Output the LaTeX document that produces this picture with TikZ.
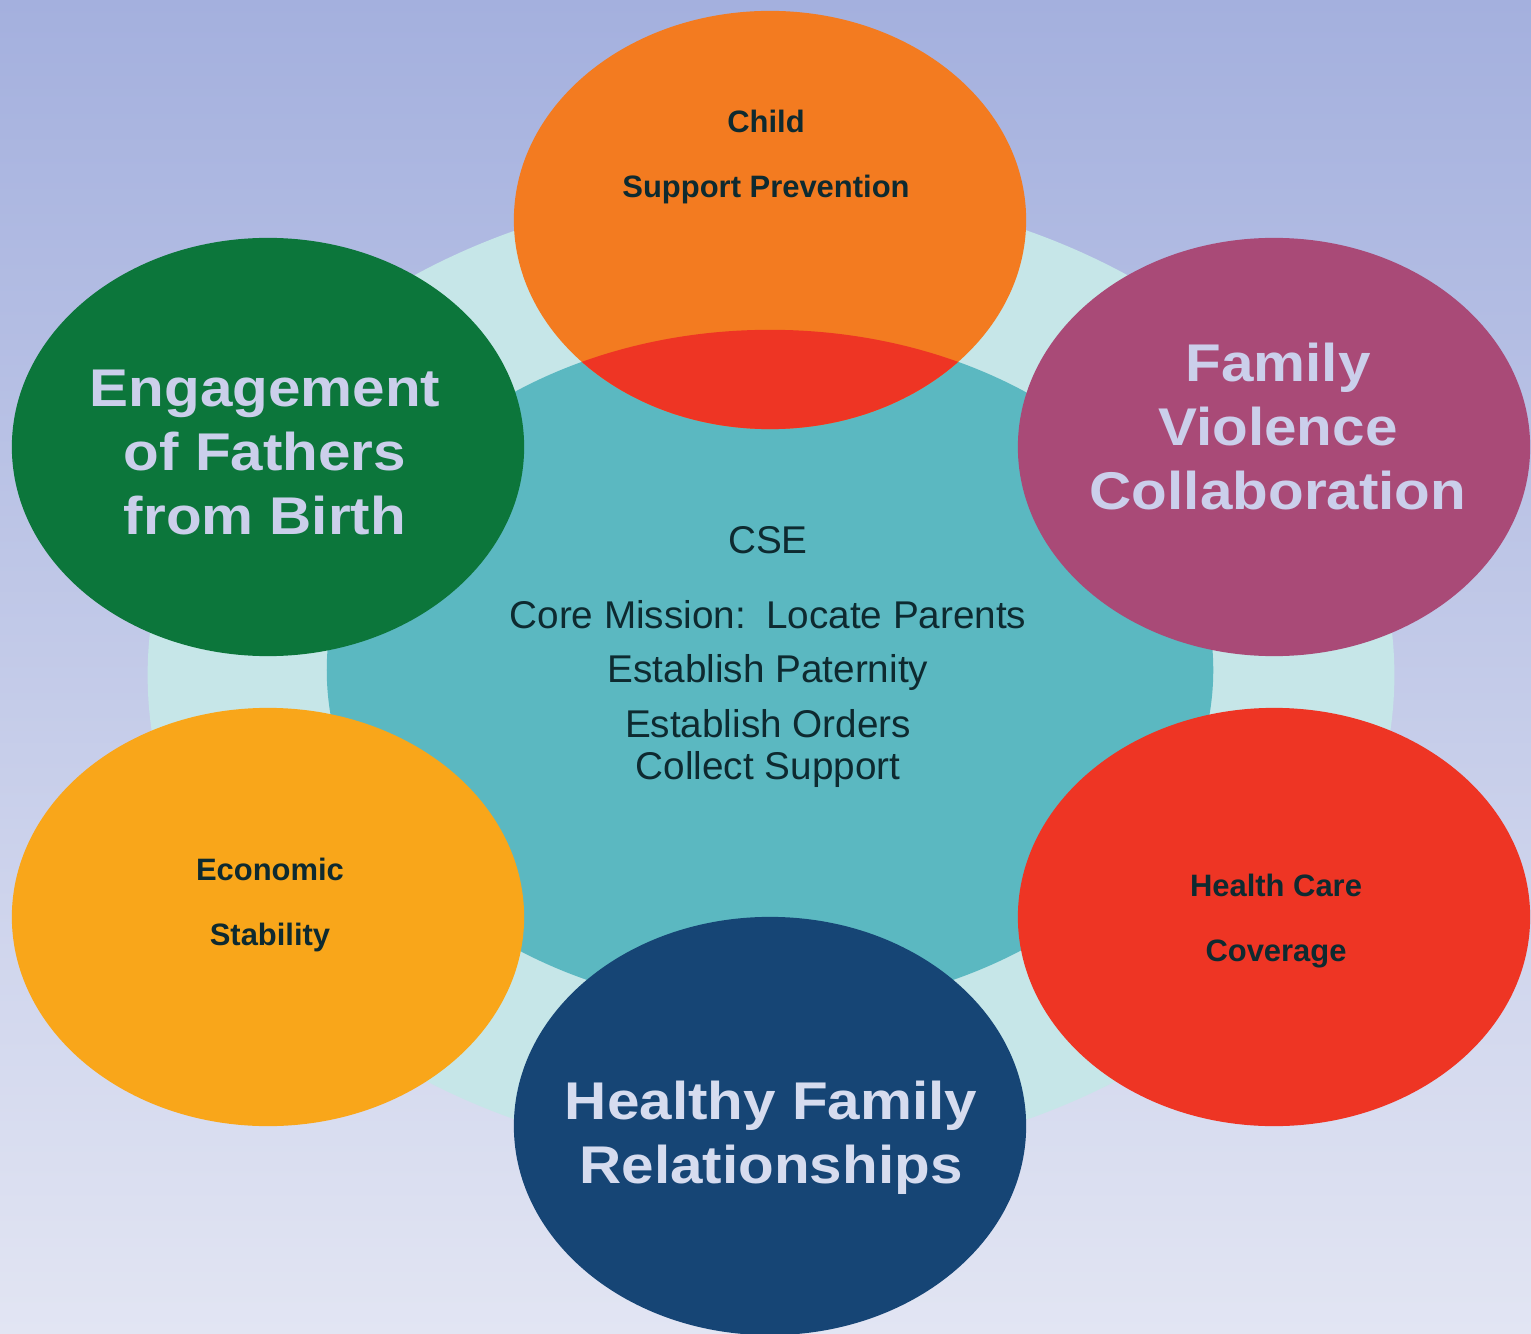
\documentclass[tikz,border=0pt]{standalone}
\usepackage{fontspec}
\setmainfont{Liberation Sans}
\newfontfamily\widesans[FakeStretch=1.1]{Liberation Sans}
\usetikzlibrary{shapes.geometric}

\definecolor{bgtop}{HTML}{A4B0DE}
\definecolor{bgbottom}{HTML}{E2E5F3}
\definecolor{ringcol}{HTML}{C6E6E8}
\definecolor{corecol}{HTML}{5BB8C1}
\definecolor{childcol}{HTML}{F37B20}
\definecolor{overlapcol}{HTML}{EE3524}
\definecolor{fathercol}{HTML}{0C763B}
\definecolor{violencecol}{HTML}{A94A77}
\definecolor{econcol}{HTML}{F9A61A}
\definecolor{healthcol}{HTML}{EE3524}
\definecolor{familycol}{HTML}{164575}
\definecolor{darktext}{HTML}{0E2A30}
\definecolor{palelilac}{HTML}{CBCFEB}
\definecolor{paleblue}{HTML}{D6DCEF}

\begin{document}
\begin{tikzpicture}[
    x=0.01cm, y=-0.01cm,
    bubble/.style={ellipse, inner sep=0pt, outer sep=0pt, minimum width=5.12cm, minimum height=4.18cm},
    bigtext/.style={align=center, font=\widesans\bfseries\fontsize{15.1}{18.2}\selectfont},
    smalltext/.style={align=center, text=darktext, font=\bfseries\fontsize{8.8}{18.5}\selectfont},
    coretext/.style={align=center, text=darktext, font=\fontsize{11}{15.5}\selectfont}
]

% Background
\useasboundingbox (0,0) rectangle (1531,1334);
\shade[top color=bgtop, bottom color=bgbottom] (0,0) rectangle (1531,1334);

% Ring and core
\node[ellipse, fill=ringcol, inner sep=0pt, minimum width=12.46cm, minimum height=9.74cm] (ring) at (771,675) {};
\node[ellipse, fill=corecol, inner sep=0pt, minimum width=8.86cm, minimum height=6.80cm] (core) at (770,670) {};

% Outer bubbles
\node[bubble, fill=childcol] (child) at (770,220) {};
\node[bubble, fill=fathercol] (fathers) at (268,447) {};
\node[bubble, fill=violencecol] (violence) at (1274,447) {};
\node[bubble, fill=econcol] (economic) at (268,917) {};
\node[bubble, fill=healthcol] (health) at (1274,917) {};
\node[bubble, fill=familycol] (family) at (770,1126) {};

% Child bubble over the core
\begin{scope}
    \clip (core.center) ellipse [x radius=4.43cm, y radius=3.40cm];
    \fill[overlapcol] (child.center) ellipse [x radius=2.56cm, y radius=2.09cm];
\end{scope}

% Labels
\node[smalltext] (childlbl) at (766,157) {Child\\Support Prevention};
\node[bigtext, text=palelilac] (fatherslbl) at (265,452) {Engagement\\of Fathers\\from Birth};
\node[bigtext, text=palelilac] (violencelbl) at (1278,427) {Family\\Violence\\Collaboration};
\node[smalltext] (economiclbl) at (270,905) {Economic\\Stability};
\node[smalltext] (healthlbl) at (1276,921) {Health Care\\Coverage};
\node[bigtext, text=paleblue] (familylbl) at (771,1138) {Healthy Family\\Relationships};

\node[coretext] (corelbl) at (768,657) {CSE\\[5.6pt]
    Core Mission:\hspace{0.15em} Locate Parents\\
    Establish Paternity\\
    Establish Orders\\[-3.6pt]
    Collect Support};

\end{tikzpicture}
\end{document}
